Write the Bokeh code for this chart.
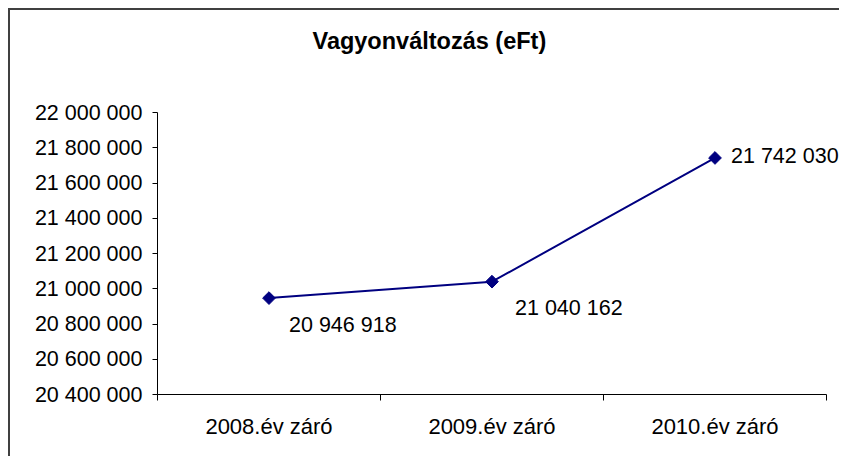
from bokeh.plotting import figure
from bokeh.models import ColumnDataSource, Range1d, FixedTicker
from bokeh.core.properties import value
from bokeh.embed import file_html
from bokeh.resources import INLINE

# ---- data ----
categories = ["2008.év záró", "2009.év záró", "2010.év záró"]
values = [20946918, 21040162, 21742030]
y_ticks = [20400000, 20600000, 20800000, 21000000, 21200000,
           21400000, 21600000, 21800000, 22000000]
title_text = "Vagyonváltozás (eFt)"

# label offsets (style)
label_dx = [20, 23, 16]
label_dy = [27, 26, -2]


def fmt(v):
    return f"{v:,}".replace(",", " ")


y_tick_labels = [fmt(v) for v in y_ticks]
value_labels = [fmt(v) for v in values]
x_pos = [i + 0.5 for i in range(len(categories))]

FONT = "Liberation Sans"
NAVY = "#000080"

# layout (canvas pixels)
W, H = 831, 448
frame_left, axis_right = 147, 816
frame_top, axis_top, axis_bottom = 48, 102, 384
y_span = y_ticks[-1] - y_ticks[0]
y_max = y_ticks[-1] + (axis_top - frame_top) * y_span / (axis_bottom - axis_top)
n = len(categories)
x_max = n + (W - axis_right) * n / (axis_right - frame_left)

src = ColumnDataSource(dict(x=x_pos, y=values, lab=value_labels,
                            dx=label_dx, dy=label_dy))

p = figure(width=W, height=H, output_backend="svg", toolbar_location=None,
           x_range=Range1d(0, x_max), y_range=Range1d(y_ticks[0], y_max),
           min_border_left=frame_left, min_border_right=0,
           min_border_top=frame_top, min_border_bottom=H - axis_bottom,
           title=title_text)
# chart border: only left and top edges are visible in the reference
p.styles = {"transform": "translate(10px, 10px)",
            "box-shadow": "-2px -2px 0 0 #404040",
            "overflow": "hidden"}
p.title.text_font = FONT
p.title.text_font_size = "23.5px"
p.title.text_font_style = "bold"
p.title.text_color = "black"
p.title.align = "left"
p.title.offset = 155
p.title.standoff = 10
p.outline_line_color = None
p.xgrid.visible = False
p.ygrid.visible = False
p.background_fill_color = "white"
p.border_fill_color = "white"

# y axis
ya = p.yaxis[0]
ya.bounds = (y_ticks[0], y_ticks[-1])
ya.ticker = FixedTicker(ticks=y_ticks)
ya.major_label_overrides = {t: l for t, l in zip(y_ticks, y_tick_labels)}
ya.major_label_text_font = FONT
ya.major_label_text_font_size = "21.5px"
ya.major_label_text_color = "black"
ya.major_tick_out = 5
ya.major_tick_in = 0
ya.minor_tick_line_color = None
ya.major_label_standoff = 10
ya.axis_line_color = "black"
ya.major_tick_line_color = "black"

# x axis: labels at category centers, tick marks at boundaries
xa = p.xaxis[0]
xa.bounds = (0, n)
xa.ticker = FixedTicker(ticks=x_pos, minor_ticks=list(range(n + 1)))
xa.major_label_overrides = {x: c for x, c in zip(x_pos, categories)}
xa.major_label_text_font = FONT
xa.major_label_text_font_size = "22px"
xa.major_label_text_color = "black"
xa.major_tick_line_color = None
xa.major_tick_out = 0
xa.major_tick_in = 0
xa.minor_tick_out = 6
xa.minor_tick_in = 0
xa.minor_tick_line_color = "black"
xa.major_label_standoff = 13
xa.axis_line_color = "black"

p.line("x", "y", source=src, line_color=NAVY, line_width=2)
p.scatter("x", "y", source=src, marker="square", angle=0.785398, size=9,
          fill_color=NAVY, line_color=NAVY)
p.text("x", "y", text="lab", source=src, x_offset="dx", y_offset="dy",
       text_font=value(FONT), text_font_size="21.5px", text_color="black",
       text_align="left", text_baseline="middle")

open("out.html", "w").write(file_html(p, INLINE))
